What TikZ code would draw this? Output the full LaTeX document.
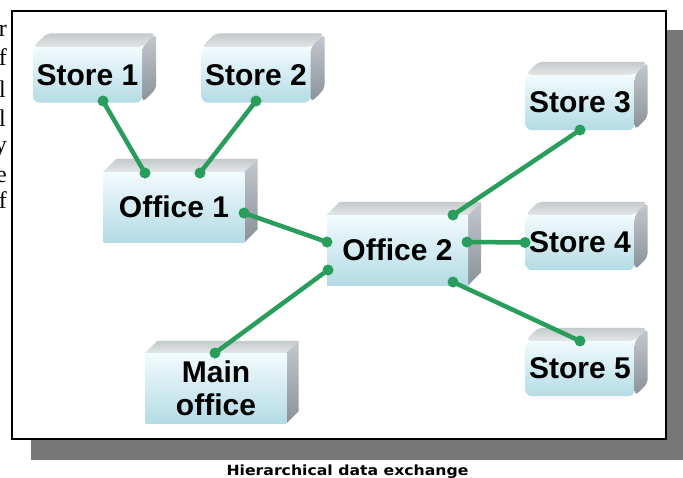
\documentclass[tikz,border=0pt]{standalone}
\usepackage{fontspec}
\setmainfont{Liberation Sans}
\newfontfamily\capfont[FakeStretch=1.12]{DejaVu Sans}
\newfontfamily\fragfont{Liberation Serif}
\usetikzlibrary{calc}
\pgfdeclarelayer{back}
\pgfdeclarelayer{bg}
\pgfsetlayers{back,bg,main}
\definecolor{linkc}{RGB}{41,157,92}
\definecolor{frontT}{RGB}{242,251,254}
\definecolor{frontB}{RGB}{180,219,228}
\definecolor{topA}{RGB}{196,201,203}
\definecolor{topB}{RGB}{226,230,231}
\definecolor{sideA}{RGB}{196,201,206}
\definecolor{sideB}{RGB}{138,145,153}
\definecolor{shadowc}{RGB}{119,119,119}
\tikzset{
  store/.style={shading=axis, top color=frontT, bottom color=frontB,
    minimum width=109pt, minimum height=55pt, rounded corners=6pt, inner sep=0pt,
    align=center, font=\fontsize{30}{33}\selectfont\bfseries},
  office/.style={store, sharp corners, minimum width=141pt, minimum height=70pt},
  topface/.style={shading=axis, top color=topA, bottom color=topB},
  sideface/.style={shading=axis, top color=sideA, bottom color=sideB},
  link/.style={draw=linkc, line width=4.5pt},
  frag/.style={anchor=base east, inner sep=0pt, font=\fragfont\fontsize{24}{29}\selectfont}
}
\newcommand\blockfaces[3]{% node, depth, corner radius
  \begin{pgfonlayer}{bg}
  \shade[topface, rounded corners=#3] (#1.north west) -- ++(#2,-#2) -- ($(#1.north east)+(#2,-#2)$) -- (#1.north east) -- cycle;
  \shade[sideface, rounded corners=#3] (#1.north east) -- ++(#2,-#2) -- ($(#1.south east)+(#2,-#2)$) -- (#1.south east) -- cycle;
  \end{pgfonlayer}}
\newcommand\linkdots[2]{%
  \fill[linkc] #1 circle[radius=5.5pt];
  \fill[linkc] #2 circle[radius=5.5pt];}
\begin{document}
\begin{tikzpicture}[x=1pt,y=-1pt]
\useasboundingbox (0,0) rectangle (683,477);
\begin{pgfonlayer}{back}
% cropped text fragments at the left edge
\begin{scope}
\clip (0,0) rectangle (11,230);
\node[frag] (f1) at (7,36) {r};
\node[frag] (f2) at (7,65) {f};
\node[frag] (f3) at (6,97) {l};
\node[frag] (f4) at (6,126) {l};
\node[frag] (f5) at (7,152) {y};
\node[frag] (f6) at (7,182) {e};
\node[frag] (f7) at (7,208) {f};
\end{scope}
% panel
\fill[shadowc] (31,30) rectangle (683,460);
\draw[line width=1.8pt, fill=white] (12,11) rectangle (666,439);
\end{pgfonlayer}
% blocks
\node[store] (s1) at (87.5,75) {Store 1};
\node[store] (s2) at (256,75) {Store 2};
\node[store] (s3) at (580,102.5) {Store 3};
\node[store] (s4) at (580,242.5) {Store 4};
\node[store] (s5) at (580,368.5) {Store 5};
\node[office] (o1) at (174,207) {Office 1};
\node[office] (o2) at (397.5,250) {Office 2};
\node[office] (mo) at (216,388) {Main\\office};
\blockfaces{s1}{14}{5pt}
\blockfaces{s2}{14}{5pt}
\blockfaces{s3}{13}{5pt}
\blockfaces{s4}{13}{5pt}
\blockfaces{s5}{13}{5pt}
\blockfaces{o1}{13}{0pt}
\blockfaces{o2}{13}{0pt}
\blockfaces{mo}{12}{0pt}
% connectors
\draw[link] ($(s1)+(15.5,26)$) -- ($(o1)+(-29,-34)$);
\linkdots{($(s1)+(15.5,26)$)}{($(o1)+(-29,-34)$)}
\draw[link] ($(s2)+(0,26)$) -- ($(o1)+(26,-34)$);
\linkdots{($(s2)+(0,26)$)}{($(o1)+(26,-34)$)}
\draw[link] ($(o1)+(70,6)$) -- ($(o2)+(-70.5,-8)$);
\linkdots{($(o1)+(70,6)$)}{($(o2)+(-70.5,-8)$)}
\draw[link] ($(o2)+(-69.5,20)$) -- ($(mo)+(-1,-35)$);
\linkdots{($(o2)+(-69.5,20)$)}{($(mo)+(-1,-35)$)}
\draw[link] ($(o2)+(55.5,-35)$) -- ($(s3)+(0,27.5)$);
\linkdots{($(o2)+(55.5,-35)$)}{($(s3)+(0,27.5)$)}
\draw[link] ($(o2)+(69.5,-8)$) -- ($(s4)+(-55,0)$);
\linkdots{($(o2)+(69.5,-8)$)}{($(s4)+(-55,0)$)}
\draw[link] ($(o2)+(55.5,32)$) -- ($(s5)+(0,-27.5)$);
\linkdots{($(o2)+(55.5,32)$)}{($(s5)+(0,-27.5)$)}
% caption
\node[anchor=base, inner sep=0pt, font=\capfont\bfseries\fontsize{14}{16}\selectfont] (cap) at (347.5,475) {Hierarchical data exchange};
\end{tikzpicture}
\end{document}
